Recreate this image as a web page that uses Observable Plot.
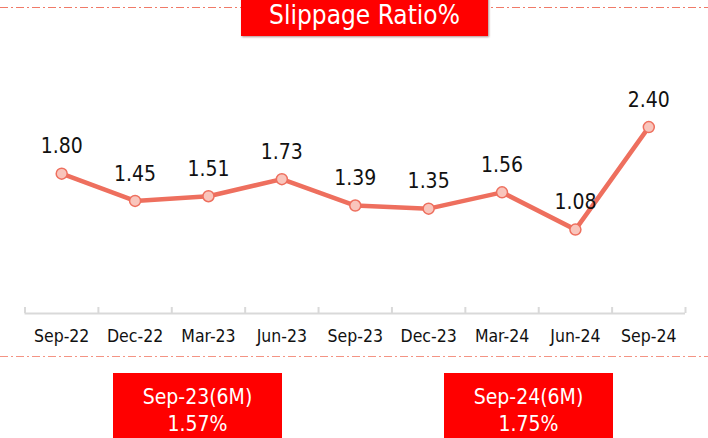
<!DOCTYPE html>
<html><head><meta charset="utf-8">
<script src="https://cdn.jsdelivr.net/npm/d3@7"></script>
<script src="https://cdn.jsdelivr.net/npm/@observablehq/plot@0.6"></script>
<style>
body{margin:0;background:#fff;font-family:"DejaVu Sans Condensed","DejaVu Sans",sans-serif;}
#wrap{position:relative;width:708px;height:438px;overflow:hidden;background:#fff;}
#chart{position:absolute;left:0;top:0;}
#deco{position:absolute;left:0;top:0;}
.box{position:absolute;background:#ff0000;color:#fff;text-align:center;white-space:nowrap;}
#title{left:241px;top:-12px;width:247px;height:48px;font-size:26px;line-height:26px;padding-top:14px;box-sizing:border-box;box-shadow:1px 1px 2px rgba(80,0,0,.45);}
.sub{top:373px;width:169px;height:80px;font-size:21px;line-height:26.7px;padding-top:11px;box-sizing:border-box;}
</style>
</head><body>
<div id="wrap">
  <svg id="deco" width="708" height="438">
    <line x1="0" x2="708" y1="7.5" y2="7.5" stroke="#F07A68" stroke-width="1.2" stroke-dasharray="8 3 2 3"/>
    <line x1="0" x2="708" y1="356.5" y2="356.5" stroke="#F49484" stroke-width="1.2" stroke-dasharray="8 3 2 3"/>
  </svg>
  <div id="chart"></div>
  <div id="title" class="box"></div>
  <div id="b1" class="box sub" style="left:113px"></div>
  <div id="b2" class="box sub" style="left:444px"></div>
</div>
<script>
const titleText = "Slippage Ratio%";
const categories = ["Sep-22","Dec-22","Mar-23","Jun-23","Sep-23","Dec-23","Mar-24","Jun-24","Sep-24"];
const ratios = [1.80, 1.45, 1.51, 1.73, 1.39, 1.35, 1.56, 1.08, 2.40];
const summaryLabels = ["Sep-23(6M)", "Sep-24(6M)"];
const summaryValues = ["1.57%", "1.75%"];

const data = categories.map((c, i) => ({i, c, v: ratios[i]}));
const boundaries = d3.range(categories.length + 1).map(k => k - 0.5);

const lineColor = "#EE6F5E";
const chart = Plot.plot({
  width: 708,
  height: 438,
  marginLeft: 24.5,
  marginRight: 23,
  marginTop: 80,
  marginBottom: 125,
  style: {fontFamily: '"DejaVu Sans Condensed","DejaVu Sans",sans-serif', background: "transparent", overflow: "visible"},
  x: {domain: [-0.5, categories.length - 0.5], axis: null},
  y: {domain: [0, 3], axis: null},
  marks: [
    Plot.ruleY([0], {stroke: "#D9D9D9", strokeWidth: 2}),
    Plot.ruleX(boundaries, {x: d => d, y1: 0, y2: 0, insetTop: -6, stroke: "#D9D9D9", strokeWidth: 2}),
    Plot.axisX(d3.range(categories.length), {tickFormat: k => categories[k], tickSize: 0, tickPadding: 16, fontSize: 17.5, fill: "#111", label: null}),
    Plot.line(data, {x: "i", y: "v", stroke: lineColor, strokeWidth: 4.5}),
    Plot.dot(data, {x: "i", y: "v", r: 5.5, fill: "#F9C5BC", stroke: lineColor, strokeWidth: 1.5}),
    Plot.text(data, {x: "i", y: "v", text: d => d.v.toFixed(2), dy: -27, fontSize: 21, fill: "#111"})
  ]
});
document.getElementById("chart").appendChild(chart);
document.getElementById("title").textContent = titleText;
["b1","b2"].forEach((id, k) => {
  const el = document.getElementById(id);
  el.innerHTML = "";
  const a = document.createElement("div"); a.textContent = summaryLabels[k];
  const b = document.createElement("div"); b.textContent = summaryValues[k];
  el.appendChild(a); el.appendChild(b);
});
</script>
</body></html>
